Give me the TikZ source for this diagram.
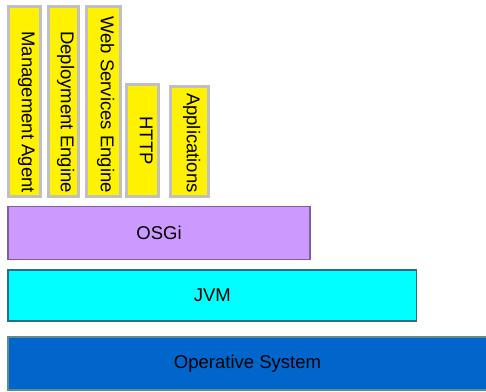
\documentclass[tikz,border=0pt]{standalone}
\usepackage{fontspec}
\setmainfont{Liberation Sans}
\usetikzlibrary{positioning}

\definecolor{bundlegray}{HTML}{C0C0C0}
\definecolor{osgipurple}{HTML}{CC99FF}
\definecolor{osgiborder}{HTML}{80609F}
\definecolor{jvmcyan}{HTML}{00FFFF}
\definecolor{jvmborder}{HTML}{306A8A}
\definecolor{osblue}{HTML}{0066CC}
\definecolor{osborder}{HTML}{5F8C8C}

\begin{document}
\begin{tikzpicture}[x=1pt,y=-1pt,
  font=\fontsize{18.5}{20}\selectfont,
  bundle/.style={draw=bundlegray, line width=3pt, fill=yellow, anchor=north west,
                 inner sep=0pt, outer sep=0pt, minimum height=190pt},
  vlabel/.style={rotate=-90, anchor=east, inner sep=0pt,
                 text height=0.72em, text depth=0.21em},
  layer/.style={line width=1.2pt, anchor=north west, inner sep=0pt, outer sep=0pt,
                minimum height=53pt}]

\useasboundingbox (0,0) rectangle (486,391);

% Bundles (Yellow Boxes), full height
\foreach \x/\w/\name/\txt in {8.8/31.4/mgmt/Management Agent,
                              48.2/30.3/deploy/Deployment Engine,
                              86.5/33.7/websvc/Web Services Engine}
{
    \node[bundle, minimum width=\w pt] (\name) at (\x,6.5) {};
    \node[vlabel] (\name-text) at ([yshift=3.5pt]\name.south) {\txt};
}

% Short Bundles
\node[bundle, minimum width=32pt, minimum height=112pt] (http) at (126.5,84.5) {};
\node[vlabel, anchor=center] (http-text) at (http.center) {HTTP};
\node[bundle, minimum width=38pt, minimum height=110pt] (apps) at (170.5,86.5) {};
\node[vlabel] (apps-text) at ([yshift=3.5pt]apps.south) {Applications};

% Layers
\node[layer, draw=osgiborder, fill=osgipurple, minimum width=302pt] (osgi) at (8,206.5) {OSGi};
\node[layer, draw=jvmborder, fill=jvmcyan, minimum width=408.5pt, minimum height=51pt] (jvm) at (8,270) {JVM};
\node[layer, draw=osborder, fill=osblue, minimum width=479pt] (os) at (8,337) {Operative System};

\end{tikzpicture}
\end{document}
